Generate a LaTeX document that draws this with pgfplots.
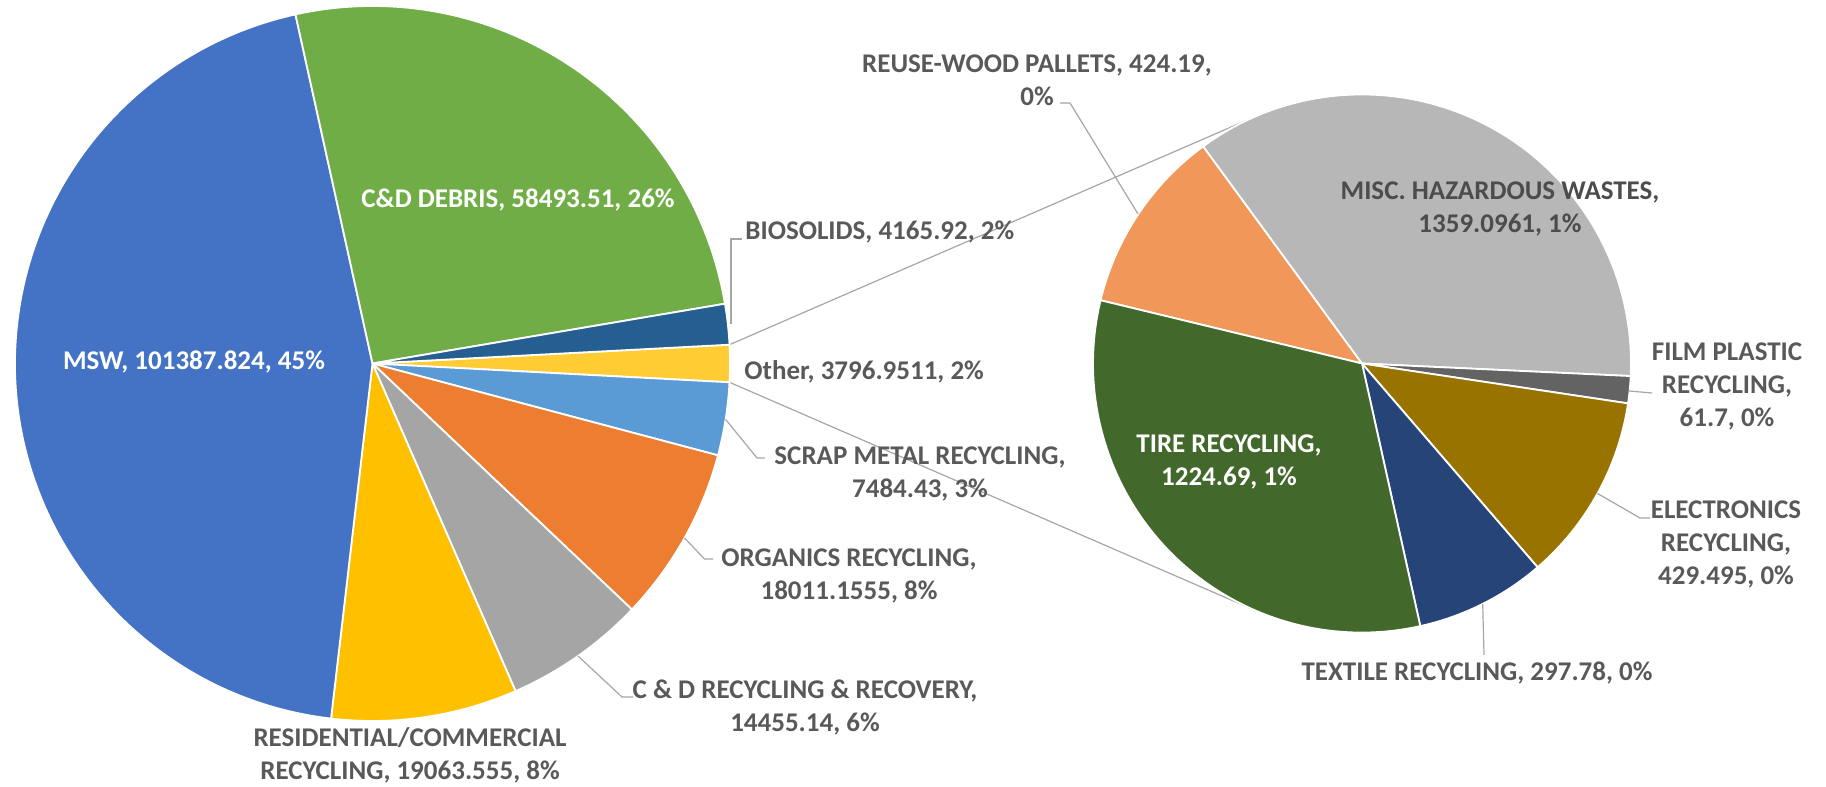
\documentclass[border=0pt]{standalone}
\usepackage{pgfplots}
\pgfplotsset{compat=1.18}
\usepackage{pgfplotstable}
\usepackage{xfp}
\usepackage{fontspec}
\setmainfont{Carlito}

\definecolor{cMSW}{HTML}{4472C4}
\definecolor{cCDD}{HTML}{70AD47}
\definecolor{cBio}{HTML}{255E91}
\definecolor{cOther}{HTML}{FFCD33}
\definecolor{cScrap}{HTML}{5B9BD5}
\definecolor{cOrg}{HTML}{ED7D31}
\definecolor{cCDR}{HTML}{A5A5A5}
\definecolor{cRes}{HTML}{FFC000}
\definecolor{cWood}{HTML}{F1975A}
\definecolor{cMisc}{HTML}{B7B7B7}
\definecolor{cFilm}{HTML}{636363}
\definecolor{cElec}{HTML}{997300}
\definecolor{cText}{HTML}{264478}
\definecolor{cTire}{HTML}{43682B}
\definecolor{cLab}{HTML}{595959}
\definecolor{cLine}{HTML}{A6A6A6}

% main pie, clockwise from the top edge of "Other"
\pgfplotstableread{
value color
3796.9511 cOther
7484.43 cScrap
18011.1555 cOrg
14455.14 cCDR
19063.555 cRes
101387.824 cMSW
58493.51 cCDD
4165.92 cBio
}\mainpie

% secondary pie (breakdown of Other), clockwise
\pgfplotstableread{
value color
424.19 cWood
1359.0961 cMisc
61.7 cFilm
429.495 cElec
297.78 cText
1224.69 cTire
}\subpie

\newcommand\pietotalof[1]{%
  \pgfplotstablegetrowsof{#1}%
  \pgfmathtruncatemacro\pienrows{\pgfplotsretval-1}%
  \def\pietotal{0}%
  \pgfplotsforeachungrouped \i in {0,...,\pienrows}{%
    \pgfplotstablegetelem{\i}{value}\of{#1}%
    \edef\pietotal{\fpeval{\pietotal+\pgfplotsretval}}%
  }%
}
% #1 table, #2 cx, #3 cy, #4 r (axis units), #5 start angle
\newcommand\drawpie[5]{%
  \pietotalof{#1}%
  \edef\piecur{#5}%
  \pgfplotsforeachungrouped \i in {0,...,\pienrows}{%
    \pgfplotstablegetelem{\i}{value}\of{#1}%
    \edef\pienext{\fpeval{round(\piecur-360*\pgfplotsretval/\pietotal,4)}}%
    \pgfplotstablegetelem{\i}{color}\of{#1}%
    \let\piecol\pgfplotsretval
    \edef\piex{\fpeval{round(#2+#4*cosd(\piecur),4)}}%
    \edef\piey{\fpeval{round(#3+#4*sind(\piecur),4)}}%
    \edef\pierad{\fpeval{round(#4*0.5,4)}}%
    \edef\pietmp{\noexpand\filldraw[fill=\piecol,draw=white,line width=0.9pt,line join=round]
      (axis cs:#2,#3) -- (axis cs:\piex,\piey)
      arc[start angle=\piecur,end angle=\pienext,radius=\pierad pt] -- cycle;}%
    \pietmp
    \let\piecur\pienext
  }%
}

\newcommand\lab{\fontsize{13.5}{16.5}\selectfont\bfseries}

\begin{document}
\begin{tikzpicture}
\begin{axis}[
  x=0.5pt, y=0.5pt,
  xmin=0, xmax=1826, ymin=0, ymax=787,
  hide axis, clip=false,
]
\coordinate (bbsw) at (axis cs:0,0);
\coordinate (bbne) at (axis cs:1826,787);

% start angle of the main pie: half of the Other wedge above horizontal
\pietotalof{\mainpie}
\pgfplotstablegetelem{0}{value}\of{\mainpie}
\edef\mainstart{\fpeval{round(180*\pgfplotsretval/\pietotal,4)}}

% connector lines
\draw[cLine, line width=0.6pt] (axis cs:729.5,442.3) -- (axis cs:1254.9,670.3);
\draw[cLine, line width=0.6pt] (axis cs:729.5,404.7) -- (axis cs:1254.9,176.7);

\drawpie{\mainpie}{372.5}{423.5}{357.5}{\mainstart}
\drawpie{\subpie}{1362}{423.5}{269}{166.4}

% leader lines
\draw[cLine, line width=0.6pt] (axis cs:731,463) -- (axis cs:731,548) -- (axis cs:742,548);
\draw[cLine, line width=0.6pt] (axis cs:725.6,367.6) -- (axis cs:757,329) -- (axis cs:765,329);
\draw[cLine, line width=0.6pt] (axis cs:684.5,249) -- (axis cs:704.5,228) -- (axis cs:713,228);
\draw[cLine, line width=0.6pt] (axis cs:578,131) -- (axis cs:622,90) -- (axis cs:633,90);
\draw[cLine, line width=0.6pt] (axis cs:1138,573) -- (axis cs:1070,684) -- (axis cs:1060,684);
\draw[cLine, line width=0.6pt] (axis cs:1629,396) -- (axis cs:1652,394);
\draw[cLine, line width=0.6pt] (axis cs:1597.5,293.5) -- (axis cs:1640,269) -- (axis cs:1650,269);
\draw[cLine, line width=0.6pt] (axis cs:1482.7,183) -- (axis cs:1484,132);

% labels
\begin{scope}[every node/.style={font=\lab, text=cLab, inner sep=0pt, align=center}]
\node[text=white] at (axis cs:518,587) {C\&D DEBRIS, 58493.51, 26\%};
\node[text=white] at (axis cs:194,425) {MSW, 101387.824, 45\%};
\node[anchor=west] at (axis cs:745,555) {BIOSOLIDS, 4165.92, 2\%};
\node[anchor=west] at (axis cs:744,415) {Other, 3796.9511, 2\%};
\node at (axis cs:920,313.5) {SCRAP METAL RECYCLING,\\7484.43, 3\%};
\node at (axis cs:849,211) {ORGANICS RECYCLING,\\18011.1555, 8\%};
\node at (axis cs:805,79) {C \& D RECYCLING \& RECOVERY,\\14455.14, 6\%};
\node at (axis cs:410,32) {RESIDENTIAL/COMMERCIAL\\RECYCLING, 19063.555, 8\%};
\node at (axis cs:1037,706.5) {REUSE-WOOD PALLETS, 424.19,\\0\%};
\node[text=black!70] at (axis cs:1500,578) {MISC. HAZARDOUS WASTES,\\1359.0961, 1\%};
\node at (axis cs:1727,401) {FILM PLASTIC\\RECYCLING,\\61.7, 0\%};
\node at (axis cs:1726,243) {ELECTRONICS\\RECYCLING,\\429.495, 0\%};
\node at (axis cs:1477,114) {TEXTILE RECYCLING, 297.78, 0\%};
\node[text=white] at (axis cs:1229,325.5) {TIRE RECYCLING,\\1224.69, 1\%};
\end{scope}
\end{axis}
\pgfresetboundingbox
\path[use as bounding box] (bbsw) rectangle (bbne);
\end{tikzpicture}
\end{document}
